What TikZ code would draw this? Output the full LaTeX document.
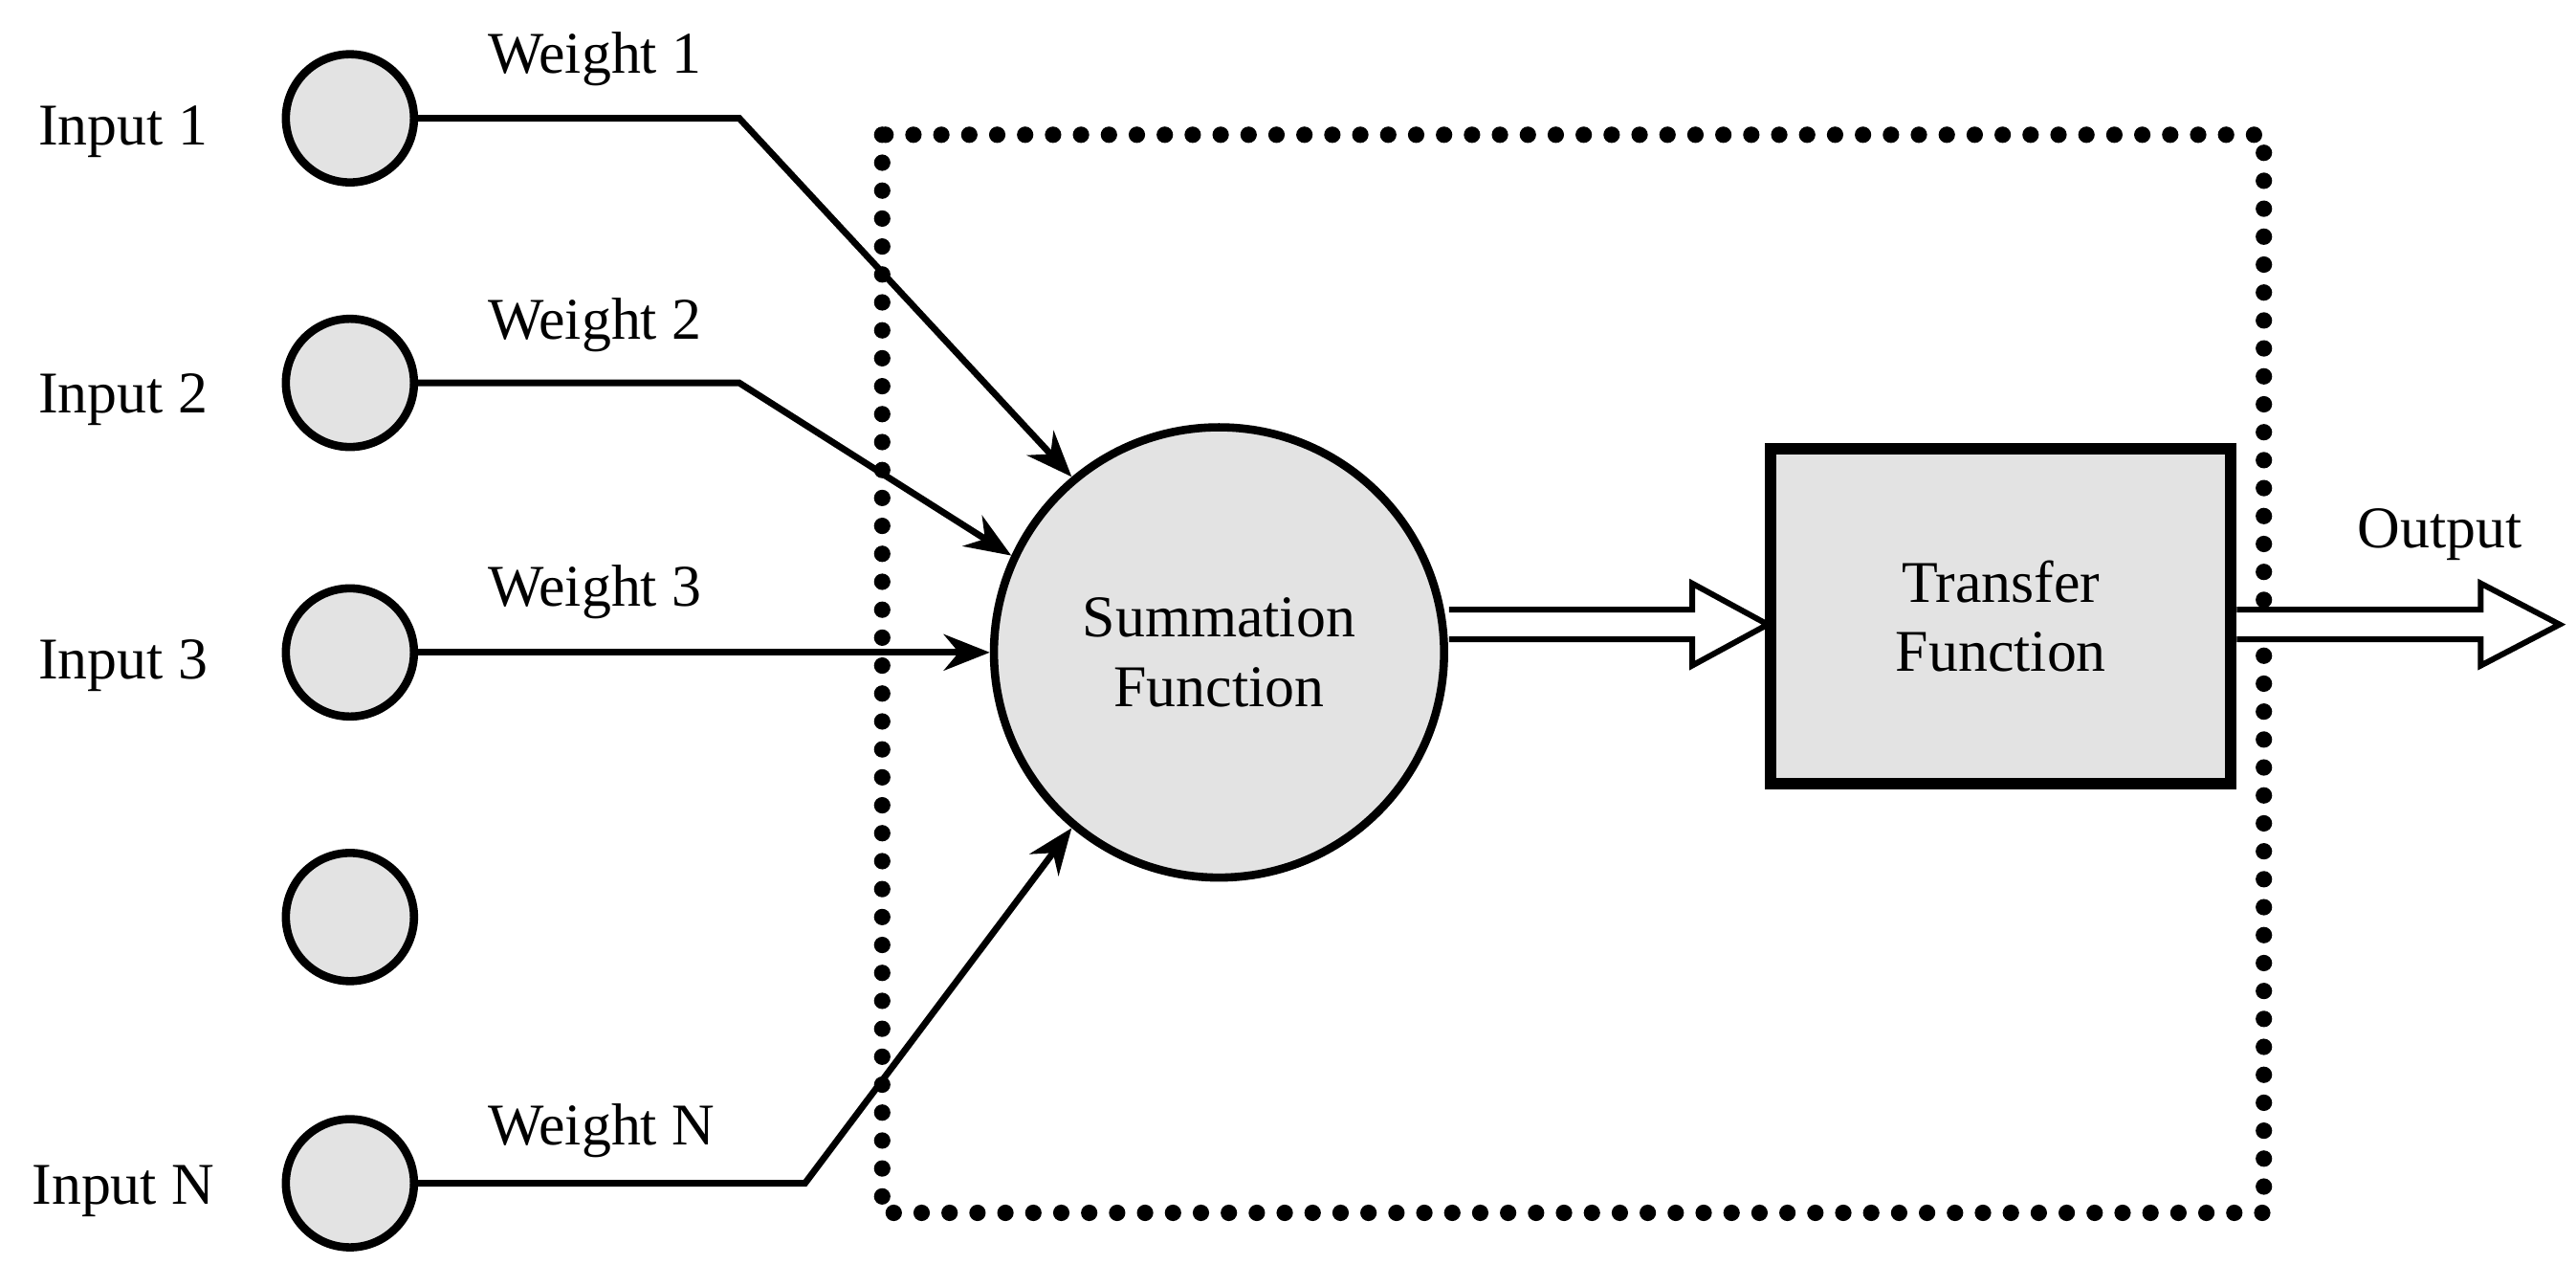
\documentclass[tikz,border=0pt]{standalone}
\usepackage{fontspec}
\setmainfont{Liberation Serif}
\usetikzlibrary{arrows.meta,calc}
\begin{document}
\begin{tikzpicture}[x=1pt,y=-1pt,
  inp/.style={circle,draw,line width=5pt,fill=gray!22,minimum size=78pt,inner sep=0},
  lab/.style={font=\fontsize{36}{42}\selectfont},
  con/.style={line width=4pt,-{Stealth[length=28pt,width=22pt]}},
  hollow/.style={draw,line width=3.5pt,fill=white,line join=miter}]
\useasboundingbox (0,0) rectangle (1568,783);
\foreach \i/\y in {1/72,2/233,3/397,4/558,5/720}{\node[inp] (c\i) at (213,\y) {};}
\node[lab] at (75,80) {Input 1};
\node[lab] at (75,243) {Input 2};
\node[lab] at (75,405) {Input 3};
\node[lab] at (75,725) {Input N};
\node[lab] at (362,36) {Weight 1};
\node[lab] at (362,198) {Weight 2};
\node[lab] at (362,360) {Weight 3};
\node[lab] at (366,688) {Weight N};
\draw[line width=10pt,line cap=round,dash pattern=on 0pt off 17pt] (537,82) rectangle (1378,738);
\node[circle,draw,line width=5pt,fill=gray!22,minimum size=274pt,align=center,lab] (sum) at (742,397) {Summation\\Function};
\node[draw,line width=7pt,fill=gray!22,minimum width=280pt,minimum height=204pt,align=center,lab] (tf) at (1218,375) {Transfer\\Function};
\node[lab] at (1485,325) {Output};
\coordinate (k1) at (450,72); \coordinate (k2) at (450,233); \coordinate (kn) at (490,720);
\coordinate (out) at (1558,380);
\draw[con] (c1.east) -- (k1) -- (sum.130);
\draw[con] (c2.east) -- (k2) -- (sum.155);
\draw[con] (c3.east) -- (sum.west);
\draw[con] (c5.east) -- (kn) -- (sum.230);
\draw[hollow] (882,371) -- (1030,371) -- (1030,355) -- (1076,380) -- (1030,405) -- (1030,389) -- (882,389);
\draw[hollow] (tf.east|-0,371) -- (1510,371) -- (1510,355) -- (out) -- (1510,405) -- (1510,389) -- (tf.east|-0,389);
\end{tikzpicture}
\end{document}
